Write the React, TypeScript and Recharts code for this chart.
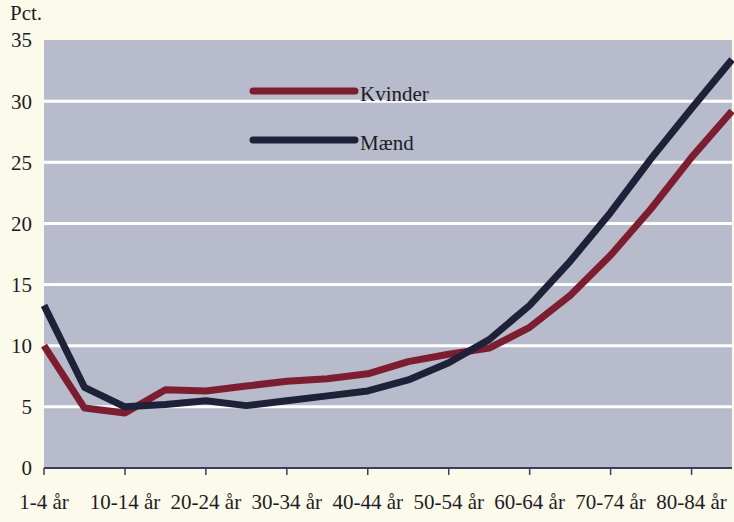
import { LineChart, Line, XAxis, YAxis, CartesianGrid } from "recharts";

const ageGroups = [
  "1-4 år", "5-9 år", "10-14 år", "15-19 år", "20-24 år", "25-29 år",
  "30-34 år", "35-39 år", "40-44 år", "45-49 år", "50-54 år", "55-59 år",
  "60-64 år", "65-69 år", "70-74 år", "75-79 år", "80-84 år", "85+ år",
];
const kvinder = [10.0, 4.9, 4.5, 6.4, 6.3, 6.7, 7.1, 7.3, 7.7, 8.7, 9.3, 9.8, 11.5, 14.1, 17.4, 21.2, 25.4, 29.2];
const maend = [13.3, 6.6, 5.0, 5.2, 5.5, 5.1, 5.5, 5.9, 6.3, 7.2, 8.6, 10.5, 13.3, 16.9, 20.9, 25.3, 29.4, 33.4];
const yTicks = [0, 5, 10, 15, 20, 25, 30, 35];
const gridValues = [5, 10, 15, 20, 25, 30];

const data = ageGroups.map((age, i) => ({ age, kvinder: kvinder[i], maend: maend[i] }));

const FONT = "'Liberation Serif', 'Times New Roman', serif";
const RED = "#7c1e2f";
const NAVY = "#1f2139";
const TEXT = "#1c1c24";

const legendItems = [
  { name: "Kvinder", color: RED, top: 74 },
  { name: "Mænd", color: NAVY, top: 123 },
];

export default function App() {
  return (
    <div
      style={{
        position: "fixed",
        left: 0,
        top: 0,
        width: 734,
        height: 522,
        background: "#fcfaea",
        overflow: "hidden",
        fontFamily: FONT,
      }}
    >
      <div style={{ position: "absolute", left: 10, top: 1, fontSize: 21, color: TEXT }}>Pct.</div>
      <LineChart width={734} height={522} data={data} margin={{ top: 40, right: 2, bottom: 0, left: 0 }}>
        <CartesianGrid
          horizontal
          vertical={false}
          horizontalValues={gridValues}
          stroke="#ffffff"
          strokeWidth={3}
          fill="#b8bbcc"
          fillOpacity={1}
        />
        <XAxis
          dataKey="age"
          height={54}
          interval={1}
          axisLine={{ stroke: "#35405c", strokeWidth: 2 }}
          tickLine={{ stroke: "#35405c", strokeWidth: 1.5 }}
          tickSize={7}
          tickMargin={19}
          tick={{ fill: TEXT, fontSize: 21, fontFamily: FONT }}
        />
        <YAxis
          width={44}
          domain={[0, 35]}
          ticks={yTicks}
          axisLine={false}
          tickLine={false}
          tickSize={0}
          tickMargin={12}
          tick={{ fill: TEXT, fontSize: 21, fontFamily: FONT }}
        />
        <Line
          type="linear"
          dataKey="kvinder"
          name="Kvinder"
          stroke={RED}
          strokeWidth={7}
          strokeLinejoin="round"
          dot={false}
          activeDot={false}
          isAnimationActive={false}
        />
        <Line
          type="linear"
          dataKey="maend"
          name="Mænd"
          stroke={NAVY}
          strokeWidth={7}
          strokeLinejoin="round"
          dot={false}
          activeDot={false}
          isAnimationActive={false}
        />
      </LineChart>
      {legendItems.map((item) => (
        <div
          key={item.name}
          style={{
            position: "absolute",
            left: 248,
            top: item.top,
            display: "flex",
            alignItems: "center",
            fontSize: 21,
            color: TEXT,
          }}
        >
          <svg width={112} height={28}>
            <line x1={5} y1={14} x2={107} y2={14} stroke={item.color} strokeWidth={7} strokeLinecap="round" />
          </svg>
          <span style={{ marginTop: 8 }}>{item.name}</span>
        </div>
      ))}
    </div>
  );
}
